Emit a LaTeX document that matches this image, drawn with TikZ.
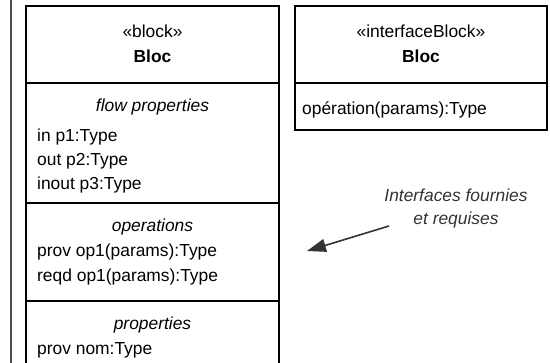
\documentclass[tikz,border=0pt]{standalone}
\usepackage{fontspec}
\setmainfont{Liberation Sans}
\usetikzlibrary{arrows.meta}

\begin{document}
\begin{tikzpicture}[x=1pt, y=-1pt,
    txt/.style={inner sep=0pt, font=\fontsize{17.4}{23}\selectfont},
    sep/.style={line width=2pt},
  ]
  \useasboundingbox (0,0) rectangle (550,363);

  % frame on the left
  \draw[line width=1.6pt, black!70] (11,0) -- (11,363);

  % block box corners
  \coordinate (BL) at (26,6);
  \coordinate (BR) at (279,6);
  \def\bx{152.5} % middle of the block

  % draw the block (runs out at the bottom)
  \draw[sep] (26,372) -- (BL) -- (BR) -- (279,372);
  \draw[sep] (26,83) -- (279,83);
  \draw[sep] (26,203) -- (279,203);
  \draw[sep] (26,301) -- (279,301);

  \node[txt, anchor=base] (stereo) at (\bx,38) {«block»};
  \node[txt, anchor=base, font=\fontsize{17.4}{23}\bfseries] (bname) at (\bx,63) {Bloc};

  \node[txt, anchor=base] (flowhd) at (\bx,112) {\itshape flow properties};
  \node[txt, anchor=base west] (fp1) at (37,141.5) {in p1:Type};
  \node[txt, anchor=base west] (fp2) at (37,165.5) {out p2:Type};
  \node[txt, anchor=base west] (fp3) at (37,189.5) {inout p3:Type};

  \node[txt, anchor=base] (ophd) at (\bx,232) {\itshape operations};
  \node[txt, anchor=base west] (op1) at (37,257) {prov op1(params):Type};
  \node[txt, anchor=base west] (op2) at (37,282) {reqd op1(params):Type};

  \node[txt, anchor=base] (prhd) at (\bx,330) {\itshape properties};
  \node[txt, anchor=base west] (pr1) at (37,355) {prov nom:Type};

  % interface block
  \coordinate (IL) at (295,6);
  \coordinate (IR) at (547,130);
  \def\ix{421}
  \draw[sep] (IL) rectangle (IR);
  \draw[sep] (295,83) -- (547,83);

  \node[txt, anchor=base] (istereo) at (\ix,38) {«interfaceBlock»};
  \node[txt, anchor=base, font=\fontsize{17.4}{23}\bfseries] (iname) at (\ix,63) {Bloc};
  \node[txt, anchor=base west] (iop) at (302,115) {opération(params):Type};

  % comment with its arrow
  \node[txt, align=center, text=black!80, font=\fontsize{17.4}{23}\itshape,
        anchor=base] (note) at (456,225) {Interfaces fournies\\et requises};
  \coordinate (tail) at (389,226);
  \coordinate (tip) at (307,251);
  \draw[-{Triangle[length=19pt, width=13pt]}, line width=1.6pt, black!80] (tail) -- (tip);

\end{tikzpicture}
\end{document}
